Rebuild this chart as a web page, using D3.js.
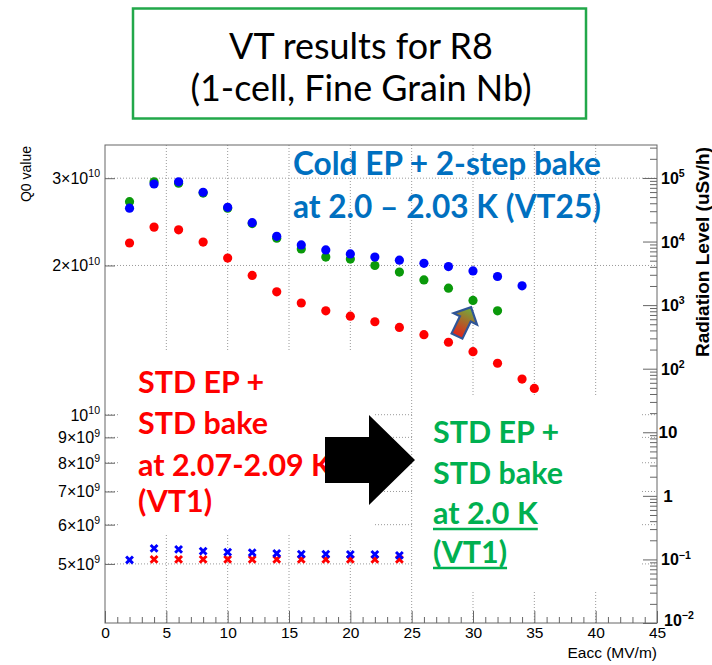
<!DOCTYPE html>
<html>
<head>
<meta charset="utf-8">
<script src="https://cdn.jsdelivr.net/npm/d3@7"></script>
<style>
  body { margin: 0; background: #fff; }
  svg { display: block; }
</style>
</head>
<body>
<svg id="chart" width="712" height="665"></svg>
<script>
// ---- Quality factor Q0 vs accelerating gradient Eacc (MV/m) ----
const eaccColdEP = [2, 4, 6, 8, 10, 12, 14, 16, 18, 20, 22, 24, 26, 28, 30, 32, 34];
const q0ColdEP = [2.61e10, 2.92e10, 2.95e10, 2.81e10, 2.62e10, 2.44e10, 2.29e10, 2.20e10, 2.15e10,
                  2.11e10, 2.08e10, 2.05e10, 2.02e10, 1.99e10, 1.95e10, 1.90e10, 1.82e10];

const eaccStd20K = [2, 4, 6, 8, 10, 12, 14, 16, 18, 20, 22, 24, 26, 28, 30, 32];
const q0Std20K = [2.69e10, 2.95e10, 2.93e10, 2.80e10, 2.61e10, 2.43e10, 2.27e10, 2.16e10,
                  2.08e10, 2.06e10, 2.00e10, 1.94e10, 1.87e10, 1.80e10, 1.70e10, 1.62e10];

const eaccStd207K = [2, 4, 6, 8, 10, 12, 14, 16, 18, 20, 22, 24, 26, 28, 30, 32, 34, 35];
const q0Std207K = [2.22e10, 2.39e10, 2.36e10, 2.23e10, 2.07e10, 1.91e10, 1.77e10, 1.68e10, 1.62e10,
                   1.58e10, 1.54e10, 1.50e10, 1.45e10, 1.40e10, 1.34e10, 1.27e10, 1.18e10, 1.13e10];

// ---- Radiation level (uSv/h) vs Eacc ----
const eaccRadColdEP = [2, 4, 6, 8, 10, 12, 14, 16, 18, 20, 22, 24];
const radColdEP = [0.098, 0.149, 0.144, 0.135, 0.130, 0.128, 0.124, 0.121, 0.121, 0.120, 0.120, 0.116];
const eaccRadStd = [4, 6, 8, 10, 12, 14, 16, 18, 20, 22, 24];
const radStd = [0.100, 0.100, 0.100, 0.100, 0.100, 0.100, 0.100, 0.100, 0.100, 0.100, 0.100];

// ---- Axis ticks ----
const xTicks = [0, 5, 10, 15, 20, 25, 30, 35, 40, 45];
const q0TickMant = [5, 6, 7, 8, 9, 1, 2, 3];
const q0TickExp = [9, 9, 9, 9, 9, 10, 10, 10];
const radTickExp = [-2, -1, 0, 1, 2, 3, 4, 5];

// ---- Annotation text ----
const titleLines = ["VT results for R8", "(1-cell, Fine Grain Nb)"];
const coldLines = ["Cold EP + 2-step bake", "at 2.0 \u2013 2.03 K (VT25)"];
const redLines = ["STD EP +", "STD bake", "at 2.07-2.09 K", "(VT1)"];
const greenLines = ["STD EP +", "STD bake", "at 2.0 K", "(VT1)"];

const svg = d3.select("#chart");
const frame = { left: 105, right: 657, top: 145, bottom: 623 };
const axisColor = "#666";
const rootFont = "'Liberation Sans', Arial, Helvetica, sans-serif";
const slideFont = "Lato, 'Open Sans', sans-serif";

const x = d3.scaleLinear().domain([0, 45]).range([frame.left, frame.right]);
const yQ = d3.scaleLog().domain([3.8e9, 3.5e10]).range([frame.bottom, frame.top]);
const yR = d3.scaleLog().domain([1e-2, 3.3e5]).range([frame.bottom, frame.top]);

const q0TickVals = q0TickMant.map((m, i) => m * Math.pow(10, q0TickExp[i]));
const radTickVals = radTickExp.map(e => Math.pow(10, e));
const radMinorVals = [];
radTickExp.forEach(e => {
  for (let k = 2; k <= 9; k++) {
    const v = k * Math.pow(10, e);
    if (v < yR.domain()[1]) radMinorVals.push(v);
  }
});

// ---- dotted grid ----
const grid = svg.append("g").attr("stroke", "#9a9a9a").attr("stroke-width", 1)
  .attr("stroke-dasharray", "1,2").attr("fill", "none");
grid.selectAll("line.vx").data(xTicks.filter(v => v > 0 && v < 45)).join("line")
  .attr("x1", d => x(d)).attr("x2", d => x(d))
  .attr("y1", frame.top).attr("y2", frame.bottom);
grid.selectAll("line.hy").data(q0TickVals).join("line")
  .attr("x1", frame.left).attr("x2", frame.right)
  .attr("y1", d => yQ(d)).attr("y2", d => yQ(d));

// ---- frame ----
svg.append("rect")
  .attr("x", frame.left).attr("y", frame.top)
  .attr("width", frame.right - frame.left).attr("height", frame.bottom - frame.top)
  .attr("fill", "none").attr("stroke", axisColor).attr("stroke-width", 1);

function styleAxis(g) {
  g.select(".domain").remove();
  g.selectAll(".tick line").attr("stroke", axisColor);
}

// bottom axis
svg.append("g").attr("transform", `translate(0,${frame.bottom})`)
  .call(d3.axisBottom(x).tickValues(d3.range(0, 46, 1).filter(v => v % 5 !== 0))
    .tickSizeInner(-6).tickSizeOuter(0).tickFormat(""))
  .call(styleAxis);
svg.append("g").attr("transform", `translate(0,${frame.bottom})`)
  .call(d3.axisBottom(x).tickValues(xTicks).tickSizeInner(-12).tickSizeOuter(0).tickPadding(4))
  .call(styleAxis)
  .call(g => g.selectAll(".tick text").attr("font-family", rootFont).attr("font-size", 15.5).attr("fill", "#000"));

// left axis (Q0)
svg.append("g").attr("transform", `translate(${frame.left},0)`)
  .call(d3.axisLeft(yQ).tickValues(q0TickVals).tickSizeInner(-10).tickSizeOuter(0).tickFormat(""))
  .call(styleAxis);

function powText(sel, mant, exp, size) {
  if (mant !== 1 && mant !== null) sel.append("tspan").text(mant + "\u00d7");
  sel.append("tspan").text("10");
  sel.append("tspan").attr("dy", -0.42 * size).attr("font-size", size * 0.66)
    .text(String(exp).replace("-", "\u2212"));
}

svg.append("g").selectAll("text").data(q0TickVals).join("text")
  .attr("x", frame.left - 5).attr("y", d => yQ(d) + 6)
  .attr("text-anchor", "end").attr("font-family", rootFont).attr("font-size", 16)
  .each(function (d, i) { powText(d3.select(this), q0TickMant[i], q0TickExp[i], 16); });

svg.append("text")
  .attr("transform", `translate(31,${frame.top + 1}) rotate(-90)`)
  .attr("text-anchor", "end").attr("font-family", rootFont).attr("font-size", 14)
  .text("Q0 value");

// right axis (radiation level)
svg.append("g").attr("transform", `translate(${frame.right},0)`)
  .call(d3.axisRight(yR).tickValues(radMinorVals).tickSizeInner(-7).tickSizeOuter(0).tickFormat(""))
  .call(styleAxis);
svg.append("g").attr("transform", `translate(${frame.right},0)`)
  .call(d3.axisRight(yR).tickValues(radTickVals).tickSizeInner(-14).tickSizeOuter(0).tickFormat(""))
  .call(styleAxis);

svg.append("g").selectAll("text").data(radTickVals).join("text")
  .attr("font-family", rootFont).attr("font-weight", "bold")
  .each(function (d, i) {
    const e = radTickExp[i];
    const t = d3.select(this);
    if (e === 0 || e === 1) {
      t.attr("x", frame.right + 11).attr("y", yR(d) + 6).attr("text-anchor", "middle")
        .attr("font-size", 17).text(e === 0 ? "1" : "10");
    } else {
      const lowest = e === radTickExp[0];
      t.attr("x", frame.right + (lowest ? 7 : 4)).attr("y", yR(d) + (lowest ? 3 : 6))
        .attr("text-anchor", "start").attr("font-size", 16);
      powText(t, 1, e, 16);
    }
  });

svg.append("text")
  .attr("transform", `translate(709,${frame.top + 2}) rotate(-90)`)
  .attr("text-anchor", "end").attr("font-family", rootFont).attr("font-weight", "bold")
  .attr("font-size", 19).text("Radiation Level (uSv/h)");

svg.append("text")
  .attr("x", frame.right).attr("y", 658).attr("text-anchor", "end")
  .attr("font-family", rootFont).attr("font-size", 15.5).text("Eacc (MV/m)");

// ---- Q0 markers ----
const q0Series = [
  { xs: eaccStd207K, ys: q0Std207K, color: "#ff0000" },
  { xs: eaccStd20K, ys: q0Std20K, color: "#0a990a" },
  { xs: eaccColdEP, ys: q0ColdEP, color: "#0000ff" }
];
q0Series.forEach(s => {
  svg.append("g").selectAll("circle").data(s.xs.map((v, i) => [v, s.ys[i]])).join("circle")
    .attr("cx", d => x(d[0])).attr("cy", d => yQ(d[1])).attr("r", 4.6).attr("fill", s.color);
});

// ---- radiation markers ----
const crossPath = "M-3.4,-3.4L3.4,3.4M-3.4,3.4L3.4,-3.4";
const radSeries = [
  { xs: eaccRadStd, ys: radStd, color: "#ff0000" },
  { xs: eaccRadColdEP, ys: radColdEP, color: "#0000ff" }
];
radSeries.forEach(s => {
  svg.append("g").selectAll("path").data(s.xs.map((v, i) => [v, s.ys[i]])).join("path")
    .attr("transform", d => `translate(${x(d[0])},${yR(d[1])})`)
    .attr("d", crossPath).attr("stroke", s.color).attr("stroke-width", 2.9).attr("fill", "none");
});

// ---- slide annotations ----
function textBlock(lines, opts) {
  const g = svg.append("g");
  const nodes = lines.map((ln, i) => g.append("text")
    .attr("x", opts.x).attr("y", opts.baselines[i])
    .attr("text-anchor", opts.anchor || "start")
    .attr("font-family", slideFont).attr("font-weight", opts.weight || "normal")
    .attr("font-size", 30).attr("fill", opts.color).text(ln));
  const ref = nodes[opts.refIndex];
  const size = 30 * opts.refWidth / ref.node().getComputedTextLength();
  nodes.forEach(n => n.attr("font-size", size));
  (opts.underline || []).forEach(i => {
    const w = nodes[i].node().getComputedTextLength();
    g.append("line").attr("x1", opts.x).attr("x2", opts.x + w)
      .attr("y1", opts.baselines[i] + 5).attr("y2", opts.baselines[i] + 5)
      .attr("stroke", opts.color).attr("stroke-width", 2.4);
  });
  return g;
}

// title box
svg.append("rect").attr("x", 133).attr("y", 8.5).attr("width", 453).attr("height", 110)
  .attr("fill", "#fff").attr("stroke", "#22a84a").attr("stroke-width", 2.5);
textBlock(titleLines, { x: 361, anchor: "middle", baselines: [59, 101], color: "#000",
  refIndex: 0, refWidth: 264 });

// cold EP label (transparent)
textBlock(coldLines, { x: 293, baselines: [175, 218], color: "#0070c0", weight: "bold",
  refIndex: 0, refWidth: 308 });

// standard EP label at 2.07-2.09 K (white backing)
svg.append("rect").attr("x", 120).attr("y", 350).attr("width", 255).attr("height", 185).attr("fill", "#fff");
textBlock(redLines, { x: 138, baselines: [393, 434, 476, 512], color: "#ff0000", weight: "bold",
  refIndex: 1, refWidth: 130 });

// standard EP label at 2.0 K (white backing)
svg.append("rect").attr("x", 414).attr("y", 397).attr("width", 226).attr("height", 193).attr("fill", "#fff");
textBlock(greenLines, { x: 433, baselines: [443, 484, 524, 563], color: "#00b050", weight: "bold",
  refIndex: 1, refWidth: 130, underline: [2, 3] });

// big black block arrow
svg.append("polygon")
  .attr("points", [[325, 437], [369, 437], [369, 415], [415, 460], [369, 505], [369, 483], [325, 483]]
    .map(p => p.join(",")).join(" "))
  .attr("fill", "#000");

// small gradient arrow
const defs = svg.append("defs");
const grad = defs.append("linearGradient").attr("id", "upGrad")
  .attr("x1", 0).attr("y1", 0).attr("x2", 1).attr("y2", 0);
grad.append("stop").attr("offset", "0%").attr("stop-color", "#e2231a");
grad.append("stop").attr("offset", "55%").attr("stop-color", "#a2702c");
grad.append("stop").attr("offset", "100%").attr("stop-color", "#6db33f");
svg.append("polygon")
  .attr("points", [[0, -6], [19, -6], [19, -13], [32, 0], [19, 13], [19, 6], [0, 6]]
    .map(p => p.join(",")).join(" "))
  .attr("transform", "translate(457,336) rotate(-64)")
  .attr("fill", "url(#upGrad)").attr("stroke", "#2f5597").attr("stroke-width", 2.2)
  .attr("stroke-linejoin", "miter");
</script>
</body>
</html>
